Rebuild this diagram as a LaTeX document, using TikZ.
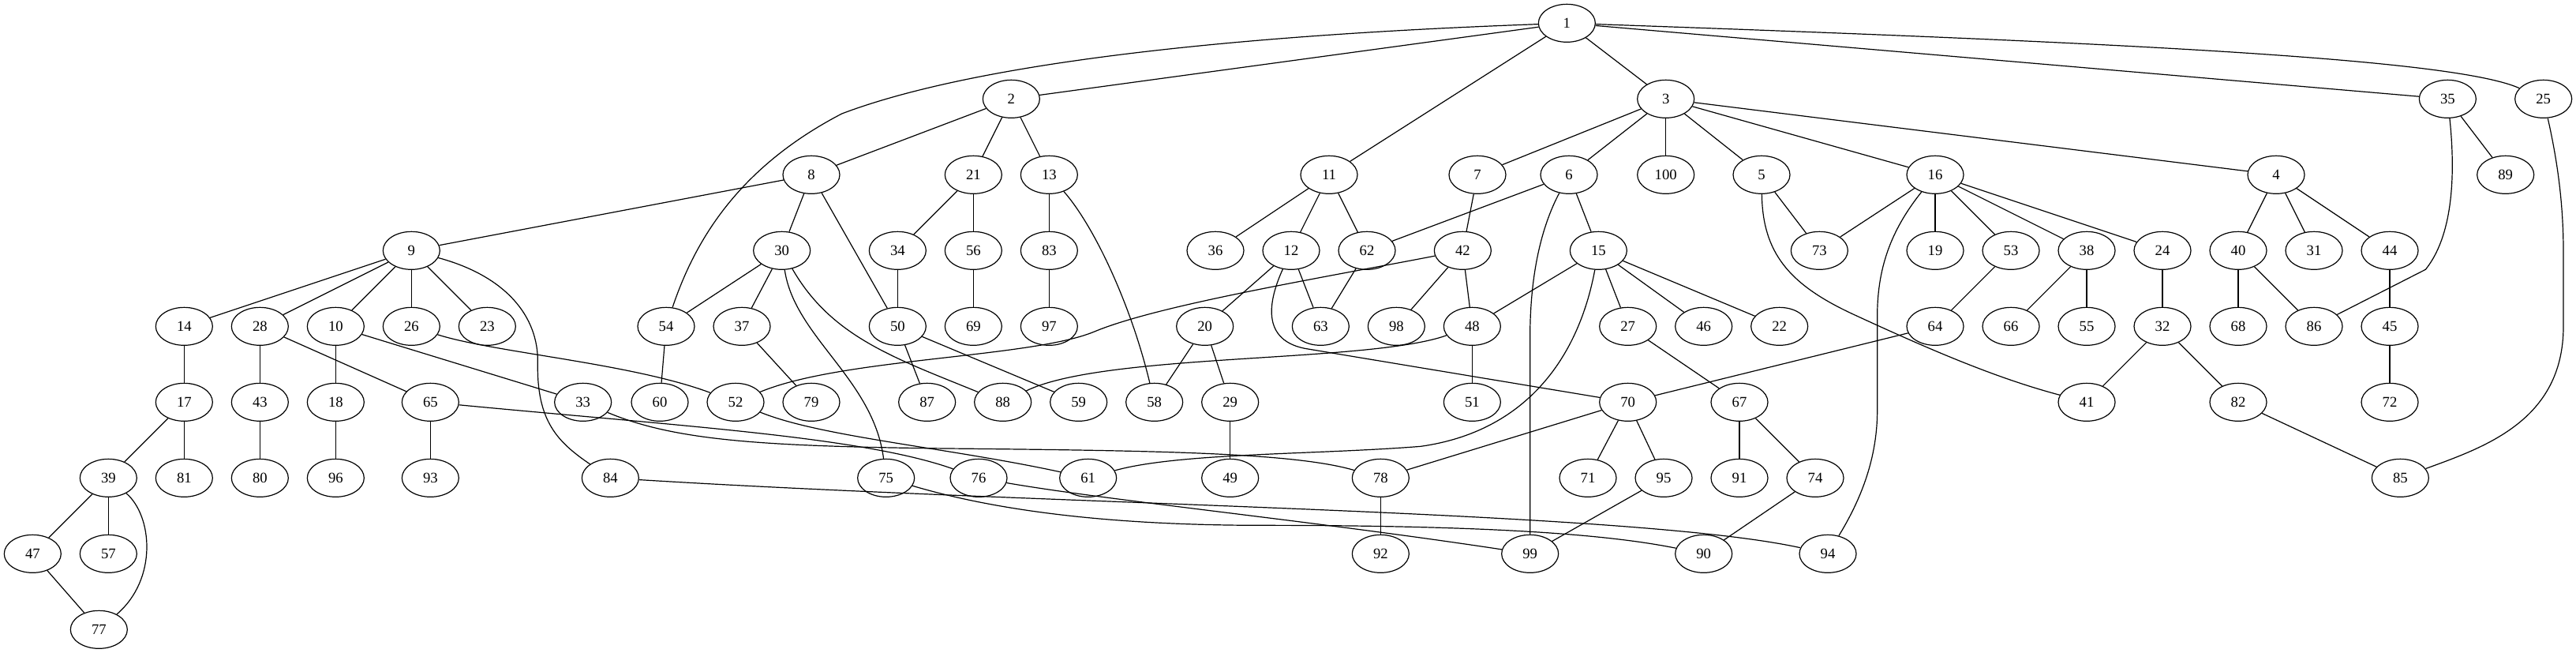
\documentclass[tikz,border=0pt]{standalone}
\usepackage{fontspec}
\setmainfont{Liberation Serif}
\usetikzlibrary{shapes.geometric}
\begin{document}
\begin{tikzpicture}[x=1pt,y=-1pt,
  gv/.style={draw, ellipse, minimum width=54pt, minimum height=36pt, inner sep=0pt, line width=0.9pt, font=\fontsize{14}{16}\selectfont},
  edge/.style={line width=0.9pt}]
\useasboundingbox (0,0) rectangle (2448,620);
% rank 0
\node[gv] (n1) at (1489,22) {1};
% rank 1
\foreach \n/\x in {2/961,3/1583,35/2326,25/2417} \node[gv] (n\n) at (\x,94) {\n};
% rank 2
\foreach \n/\x in {8/771,21/925,13/997,11/1263,7/1404,6/1491,100/1583,5/1674,16/1839,4/2163,89/2381} \node[gv] (n\n) at (\x,166) {\n};
% rank 3
\foreach \n/\x in {9/391,30/743,34/853,56/925,83/997,36/1155,12/1227,62/1299,42/1390,15/1519,73/1729,19/1839,53/1911,38/1983,24/2055,40/2127,31/2199,44/2271} \node[gv] (n\n) at (\x,238) {\n};
% rank 4
\foreach \n/\x in {14/175,28/247,10/319,26/391,23/463,54/633,37/705,50/853,69/925,97/997,20/1145,63/1255,98/1327,48/1399,27/1547,46/1619,22/1691,64/1839,66/1911,55/1983,32/2055,68/2127,86/2199,45/2271} \node[gv] (n\n) at (\x,310) {\n};
% rank 5
\foreach \n/\x in {17/175,43/247,18/319,65/409,33/554,60/627,52/699,79/771,87/881,88/953,59/1025,58/1097,29/1169,51/1399,70/1547,67/1653,41/1983,82/2127,72/2271} \node[gv] (n\n) at (\x,382) {\n};
% rank 6
\foreach \n/\x in {39/103,81/175,80/247,96/319,93/409,84/580,75/842,76/930,61/1034,49/1169,78/1312,71/1509,95/1581,91/1653,74/1725,85/2281} \node[gv] (n\n) at (\x,454) {\n};
% rank 7
\foreach \n/\x in {47/31,57/103,92/1312,99/1454,90/1619,94/1737} \node[gv] (n\n) at (\x,526) {\n};
% rank 8
\node[gv] (n77) at (94,598) {77};

% straight edges
\foreach \a/\b in {1/3,1/11,1/2,1/35,2/8,2/21,2/13,3/7,3/6,3/100,3/5,3/16,3/4,8/9,8/30,8/50,21/34,21/56,13/83,11/36,11/12,11/62,7/42,6/62,6/15,5/73,16/73,16/19,16/53,16/38,16/24,4/40,4/31,4/44,35/89,9/14,9/28,9/10,9/26,9/23,30/54,30/37,34/50,56/69,83/97,12/20,12/63,62/63,42/98,42/48,15/48,15/27,15/46,15/22,53/64,38/66,38/55,24/32,40/68,40/86,44/45,14/17,28/43,28/65,10/18,10/33,54/60,37/79,50/87,50/59,20/58,20/29,48/51,27/67,64/70,32/41,32/82,45/72,17/81,17/39,43/80,18/96,65/93,70/71,70/95,70/78,67/91,67/74,82/85,29/49,39/47,39/57,47/77,78/92,95/99,74/90}
  \draw[edge] (n\a) -- (n\b);

% curved edges
\draw[edge] (n1) .. controls (1100,36) and (900,70) .. (800,108) .. controls (700,160) and (660,230) .. (n54);
\draw[edge] (n1) .. controls (2000,40) and (2330,55) .. (n25);
\draw[edge] (n9) .. controls (480,262) and (512,300) .. (511,345) .. controls (510,400) and (530,420) .. (n84);
\draw[edge] (n30) .. controls (755,320) and (830,360) .. (n75);
\draw[edge] (n30) .. controls (790,320) and (850,340) .. (n88);
\draw[edge] (n13) .. controls (1040,215) and (1075,290) .. (n58);
\draw[edge] (n12) .. controls (1208,280) and (1195,322) .. (1240,331) -- (n70);
\draw[edge] (n42) .. controls (1250,265) and (1100,290) .. (1040,315) .. controls (980,340) and (800,340) .. (n52);
\draw[edge] (n48) .. controls (1300,345) and (1050,335) .. (n88);
\draw[edge] (n15) .. controls (1500,340) and (1450,410) .. (1350,424) .. controls (1250,432) and (1120,430) .. (n61);
\draw[edge] (n65) .. controls (650,405) and (820,415) .. (n76);
\draw[edge] (n33) .. controls (640,418) and (720,424) .. (900,426) .. controls (1100,428) and (1230,430) .. (n78);
\draw[edge] (n52) .. controls (780,415) and (900,425) .. (n61);
\draw[edge] (n75) .. controls (950,486) and (1060,499) .. (1200,499) .. controls (1420,499) and (1530,508) .. (n90);
\draw[edge] (n76) .. controls (1050,475) and (1250,495) .. (n99);
\draw[edge] (n84) .. controls (1000,480) and (1550,485) .. (n94);
\draw[edge] (n6) .. controls (1465,215) and (1454,260) .. (1454,320) -- (n99);
\draw[edge] (n16) .. controls (1800,215) and (1784,250) .. (1784,300) -- (1784,390) .. controls (1784,440) and (1765,480) .. (n94);
\draw[edge] (n5) .. controls (1675,240) and (1700,270) .. (1760,298) .. controls (1840,335) and (1900,360) .. (n41);
\draw[edge] (n35) .. controls (2334,170) and (2330,225) .. (2305,256) -- (n86);
\draw[edge] (n25) .. controls (2432,160) and (2436,200) .. (2436,240) -- (2436,310) .. controls (2436,400) and (2360,425) .. (n85);
\draw[edge] (n39) .. controls (145,490) and (150,550) .. (n77);
\draw[edge] (n26) .. controls (470,335) and (600,345) .. (n52);
\end{tikzpicture}
\end{document}
